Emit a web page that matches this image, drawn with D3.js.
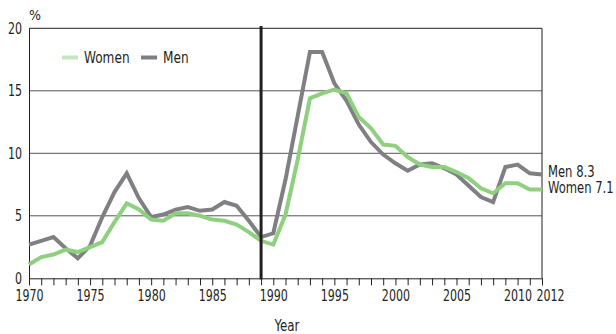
<!DOCTYPE html>
<html>
<head>
<meta charset="utf-8">
<script src="https://cdn.jsdelivr.net/npm/d3@7"></script>
<style>
  body { margin: 0; background: #fff; }
  svg text { font-family: "Liberation Sans Narrow", "DejaVu Sans Condensed", "Liberation Sans", sans-serif; fill: #231f20; }
</style>
</head>
<body>
<div id="chart"></div>
<script>
// Unemployment rate, %, by year
const years = d3.range(1970, 2013);
const women = [1.1, 1.7, 1.9, 2.3, 2.1, 2.5, 2.9, 4.5, 6.0, 5.5,
               4.7, 4.6, 5.2, 5.2, 5.0, 4.7, 4.6, 4.3, 3.7, 3.0,
               2.7, 5.1, 9.5, 14.4, 14.8, 15.1, 14.8, 12.9, 12.0, 10.7,
               10.6, 9.7, 9.1, 8.9, 8.9, 8.5, 8.0, 7.2, 6.8, 7.6,
               7.6, 7.1, 7.1];
const men = [2.7, 3.0, 3.3, 2.4, 1.6, 2.6, 4.9, 6.9, 8.4, 6.4,
             4.9, 5.1, 5.5, 5.7, 5.4, 5.5, 6.1, 5.8, 4.6, 3.3,
             3.6, 7.9, 13.0, 18.1, 18.1, 15.6, 14.2, 12.3, 10.9, 9.9,
             9.2, 8.6, 9.1, 9.2, 8.8, 8.3, 7.4, 6.5, 6.1, 8.9,
             9.1, 8.4, 8.3];
const yTicks = [0, 5, 10, 15, 20];
const xLabels = [1970, 1975, 1980, 1985, 1990, 1995, 2000, 2005, 2010, 2012];
const markYear = 1989;

const width = 616, height = 334;
const margin = { top: 28.3, right: 74, bottom: 55.7, left: 29 };

// draws text horizontally condensed, keeping its anchor point
function condense(sel, k = 0.82) {
    sel.each(function () {
        const t = d3.select(this);
        const x0 = +t.attr("x") || 0;
        t.attr("x", x0 / k).attr("transform", `scale(${k},1)`);
    });
}

const svg = d3.select("#chart").append("svg")
    .attr("width", width).attr("height", height);

const x = d3.scaleLinear().domain([1970, 2012]).range([margin.left, width - margin.right]);
const y = d3.scaleLinear().domain([0, 20]).range([height - margin.bottom, margin.top]);

// gridlines
svg.append("g")
    .selectAll("line")
    .data(yTicks.filter(d => d > 0))
    .join("line")
    .attr("x1", x(1970)).attr("x2", x(2012))
    .attr("y1", d => y(d)).attr("y2", d => y(d))
    .attr("stroke", d => d === 20 ? "#231f20" : "#555")
    .attr("stroke-width", 1);

// right border
svg.append("line")
    .attr("x1", x(2012)).attr("x2", x(2012))
    .attr("y1", y(20)).attr("y2", y(0))
    .attr("stroke", "#231f20");

// y axis
const yAxis = svg.append("g")
    .attr("transform", `translate(${margin.left},0)`)
    .call(d3.axisLeft(y).tickValues(yTicks).tickSize(0).tickPadding(7));
yAxis.select(".domain").attr("stroke", "#231f20");
yAxis.selectAll("text").style("font-size", "15px").attr("fill", "#231f20").call(condense);

svg.append("text")
    .attr("x", 29).attr("y", 20)
    .style("font-size", "14px")
    .text("%");

// x axis
const xAxis = svg.append("g")
    .attr("transform", `translate(0,${y(0)})`)
    .call(d3.axisBottom(x).tickValues(years).tickSize(7).tickPadding(5)
        .tickFormat(d => xLabels.includes(d) ? d : ""));
xAxis.select(".domain").attr("stroke", "#231f20");
xAxis.selectAll("line").attr("stroke", "#231f20");
xAxis.selectAll("text").style("font-size", "15px").attr("fill", "#231f20")
    .attr("x", d => d === 2012 ? 8 : 0)
    .call(condense);

svg.append("text")
    .attr("x", 287).attr("y", 331)
    .attr("text-anchor", "middle")
    .style("font-size", "15px")
    .text("Year")
    .call(condense, 0.88);

// lines
const line = d3.line()
    .x((d, i) => x(years[i]))
    .y(d => y(d));

const series = [
    { name: "Women", values: women, color: "#8fd07f", legend: "#c3e6ba" },
    { name: "Men", values: men, color: "#808084", legend: "#7d7d82" }
];

svg.selectAll(".series")
    .data(series.slice().reverse())
    .join("path")
    .attr("class", "series")
    .attr("d", d => line(d.values))
    .attr("fill", "none")
    .attr("stroke", d => d.color)
    .attr("stroke-width", 4)
    .attr("stroke-linejoin", "miter");

// reference line at 1989
svg.append("line")
    .attr("x1", x(markYear)).attr("x2", x(markYear))
    .attr("y1", 26).attr("y2", y(0) + 1)
    .attr("stroke", "#231f20")
    .attr("stroke-width", 3);

// end labels
svg.append("text")
    .attr("x", 548).attr("y", 177.5)
    .style("font-size", "15px")
    .text("Men " + men[men.length - 1].toFixed(1))
    .call(condense, 0.86);
svg.append("text")
    .attr("x", 548).attr("y", 193)
    .style("font-size", "15px")
    .text("Women " + women[women.length - 1].toFixed(1))
    .call(condense, 0.86);

// legend
const legendX = [62, 141];
const legend = svg.selectAll(".legend")
    .data(series)
    .join("g")
    .attr("class", "legend")
    .attr("transform", (d, i) => `translate(${legendX[i]},57.5)`);
legend.append("line")
    .attr("x1", 0).attr("x2", 16)
    .attr("stroke", d => d.legend)
    .attr("stroke-width", 4);
legend.append("text")
    .attr("x", 22).attr("y", 5.5)
    .style("font-size", "15px")
    .text(d => d.name)
    .call(condense, 0.9);
</script>
</body>
</html>
